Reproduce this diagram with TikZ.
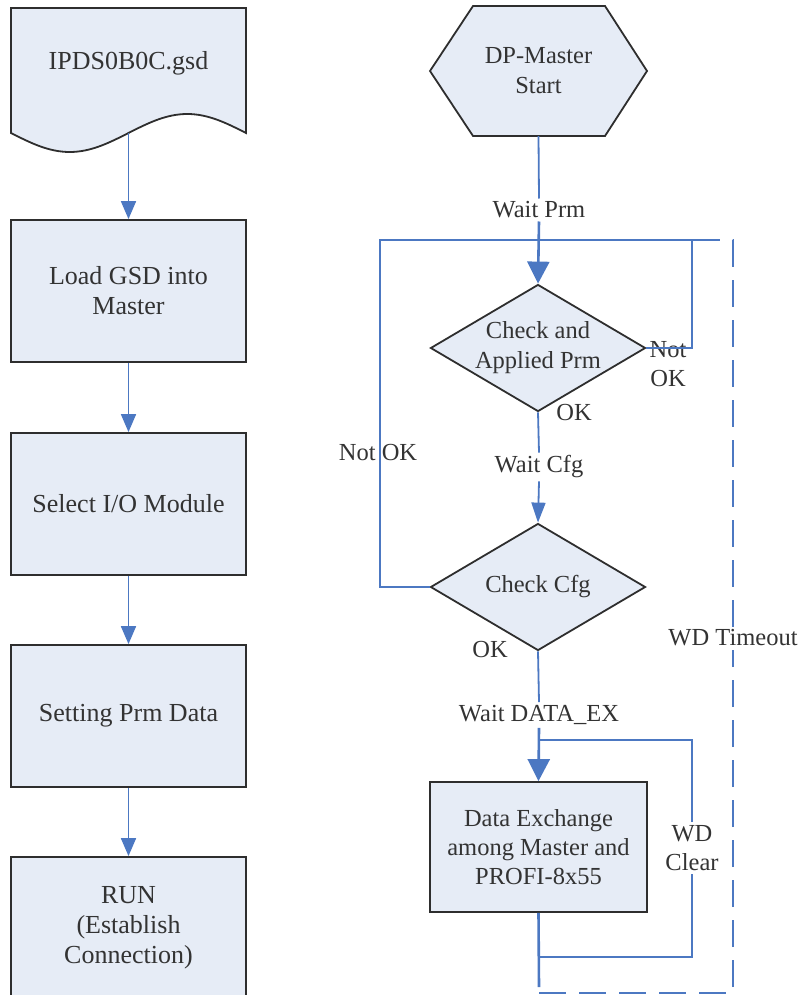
\documentclass[tikz,border=0pt]{standalone}
\usepackage{fontspec}
\setmainfont{Liberation Serif}
\usetikzlibrary{shapes.geometric,arrows.meta}
\definecolor{fillc}{HTML}{E6ECF6}
\definecolor{linec}{HTML}{4C78C2}
\definecolor{edgec}{HTML}{2E2E2E}
\definecolor{txtc}{HTML}{333333}
\begin{document}
\begin{tikzpicture}[x=1pt,y=-1pt,
  shapeline/.style={draw=edgec,line width=1.8pt,fill=fillc},
  box/.style={shapeline,rectangle,minimum width=235pt,minimum height=142pt,inner sep=0pt,align=center,text=txtc,font=\fontsize{26}{30}\selectfont},
  rbox/.style={shapeline,rectangle,minimum width=217pt,minimum height=130pt,inner sep=0pt,align=center,text=txtc,font=\fontsize{24.5}{29}\selectfont},
  dia/.style={shapeline,diamond,minimum width=215pt,minimum height=127pt,inner sep=0pt},
  intext/.style={align=center,text=txtc,font=\fontsize{24.5}{30}\selectfont,inner sep=0pt},
  lbl/.style={align=center,text=txtc,font=\fontsize{24.5}{29}\selectfont,inner sep=3pt},
  flow/.style={draw=linec,line width=1.8pt},
  larr/.style={flow,-{Triangle[length=18pt,width=15pt]}},
  sarr/.style={flow,-{Triangle[length=20pt,width=14pt]}},
  barr/.style={draw=linec,line width=2.6pt,-{Triangle[length=22pt,width=22pt]}},
  thick flow/.style={draw=linec,line width=2.6pt},
  tout/.style={draw=linec,line width=2.5pt,dash pattern=on 27pt off 13pt}]
\useasboundingbox (0,0) rectangle (799,995);
\clip (0,0) rectangle (799,995);

% ---------- left column ----------
\draw[shapeline] (11,133) sin (69.75,152) cos (128.5,133) sin (187.25,114) cos (246,133) -- (246,8) -- (11,8) -- cycle;
\node[intext,font=\fontsize{26}{30}\selectfont] (gsd) at (128.5,63) {IPDS0B0C.gsd};
\coordinate (gsdb) at (128.5,133);
\node[box] (b2) at (128.5,291) {Load GSD into\\Master};
\node[box] (b3) at (128.5,504) {Select I/O Module};
\node[box] (b4) at (128.5,716) {Setting Prm Data};
\node[box] (b5) at (128.5,928) {RUN\\(Establish\\Connection)};
\draw[larr] (gsdb) -- (b2.north);
\draw[larr] (b2.south) -- (b3.north);
\draw[larr] (b3.south) -- (b4.north);
\draw[larr] (b4.south) -- (b5.north);

% ---------- right column ----------
\draw[shapeline] (473,6) -- (605,6) -- (647,71) -- (605,136) -- (473,136) -- (430,71) -- cycle;
\node[minimum width=217pt,minimum height=130pt,inner sep=0pt,intext] (start) at (538.5,71) {DP-Master\\Start};
\node[lbl] (wp) at (539,210) {Wait Prm};
\node[dia,label={[intext]center:Check and\\Applied Prm}] (chk1) at (538,348) {};
\node[lbl] (wc) at (539,467) {Wait Cfg};
\node[dia,label={[intext]center:Check Cfg}] (chk2) at (538,587) {};
\node[lbl] (wde) at (539,715) {Wait DATA\_EX};
\node[rbox] (data) at (538.5,847) {Data Exchange\\among Master and\\PROFI-8x55};
\node[lbl,inner sep=1pt] (ok1) at (574,413) {OK};
\node[lbl,inner sep=1pt] (nok1) at (668,364) {Not\\OK};
\node[lbl,inner sep=1pt] (nok2) at (378,453) {Not OK};
\node[lbl,inner sep=1pt] (ok2) at (490,650) {OK};
\node[lbl] (wdc) at (692,848) {WD\\Clear};
\node[lbl,fill=white] (wdt) at (733,638) {WD Timeout};

\coordinate (j1) at (539,240);
\coordinate (tl) at (380,240);
\coordinate (tr) at (692,240);
\coordinate (j2) at (539,740);
\coordinate (j3) at (539,957);
\coordinate (bend) at (539,987);
\coordinate (bl) at (539,993);
\coordinate (br) at (733,993);
\coordinate (tt) at (733,240);

% watchdog timeout (dashed)
\draw[tout] (bl) -- (br) -- (wdt.south);
\draw[tout] (wdt.north) -- (tt) -- (j1);

% main flow
\draw[flow] (start.south) -- (wp.north);
\draw[flow] (chk1.east) -| (tr) -- (j1);
\draw[flow] (chk2.west) -| (tl) -- (j1);
\draw[barr] (wp.south) -- (chk1.north);
\draw[flow] (chk1.south) -- (wc.north);
\draw[sarr] (wc.south) -- (chk2.north);
\draw[flow] (chk2.south) -- (wde.north);
\draw[thick flow] (j3) -| (wdc.south);
\draw[thick flow] (wdc.north) |- (j2);
\draw[barr] (wde.south) -- (data.north);
\draw[thick flow] (data.south) -- (bend);
\end{tikzpicture}
\end{document}
